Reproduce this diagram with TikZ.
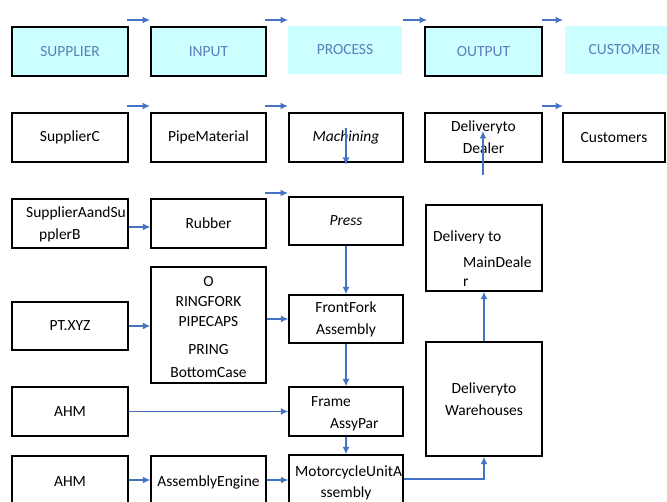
\documentclass[tikz,border=0pt]{standalone}
\usepackage{fontspec}
\setmainfont{Carlito}
\usetikzlibrary{arrows.meta}
\definecolor{arrc}{HTML}{4472C4}
\definecolor{hfill}{HTML}{CCFFFF}
\definecolor{htext}{RGB}{95,125,185}
\begin{document}
\begin{tikzpicture}[x=1pt,y=-1pt,
  font=\fontsize{15.5}{22}\selectfont,
  bx/.style={draw=black, line width=1.3pt, inner sep=0pt, align=center},
  hdr/.style={bx, fill=hfill, text=htext},
  hdrn/.style={fill=hfill, text=htext, inner sep=0pt},
  lbl/.style={inner sep=0pt},
  arr/.style={draw=arrc, line width=1.4pt, -{Latex[length=7.5pt,width=7pt]}}]
\useasboundingbox (0,0) rectangle (667,502);
% headers
\node[hdr, minimum width=116, minimum height=49] (hSup) at (70,51.5) {SUPPLIER};
\node[hdr, minimum width=115, minimum height=49] (hIn) at (208.5,51.5) {INPUT};
\node[hdrn, minimum width=114, minimum height=48] (hProc) at (345,50) {PROCESS};
\node[hdr, minimum width=117, minimum height=49] (hOut) at (483.5,51.5) {OUTPUT};
\node[hdrn, minimum width=119, minimum height=48] (hCust) at (624.5,50) {CUSTOMER};
% row 2
\node[bx, minimum width=116, minimum height=49] (supC) at (70,137.5) {SupplierC};
\node[bx, minimum width=115, minimum height=49] (pipe) at (208.5,137.5) {PipeMaterial};
\node[bx, minimum width=114, minimum height=49] (mach) at (346,137.5) {\itshape Machining};
\node[bx, minimum width=117, minimum height=49] (dealer) at (483.5,137.5) {\fontsize{15.5}{21}\selectfont Deliveryto\\Dealer};
\node[bx, minimum width=102, minimum height=49] (cust) at (614,137.5) {Customers};
% row 3
\node[bx, minimum width=116, minimum height=49] (supAB) at (70,223.5) {};
\node[bx, minimum width=115, minimum height=49] (rubber) at (208.5,223.5) {Rubber};
\node[bx, minimum width=114, minimum height=48] (press) at (346,221) {\itshape Press};
% row 4
\node[bx, minimum width=116, minimum height=48] (pt) at (70,326) {PT.XYZ};
\node[bx, minimum width=115, minimum height=116] (oring) at (208.5,325) {};
\node[bx, minimum width=114, minimum height=48] (ffork) at (346,319) {\fontsize{15.5}{23}\selectfont FrontFork\\Assembly};
% output column
\node[bx, minimum width=116, minimum height=86] (mainD) at (484,248) {};
\node[bx, minimum width=116, minimum height=114] (wareh) at (484,399) {Deliveryto\\Warehouses};
% row 5
\node[bx, minimum width=116, minimum height=49] (ahm1) at (70,411.5) {AHM};
\node[bx, minimum width=114, minimum height=49] (frame) at (346,411.5) {};
% row 6
\node[bx, minimum width=116, minimum height=52] (ahm2) at (70,482) {AHM};
\node[bx, minimum width=115, minimum height=52] (engine) at (208.5,482) {AssemblyEngine};
\node[bx, minimum width=114, minimum height=53] (motor) at (346,481.5) {};
% loose text
\node[lbl, anchor=west] (tAB1) at (26,213) {SupplierAandSu};
\node[lbl, anchor=west] (tAB2) at (39,235) {pplerB};
\node[lbl] (tO1) at (208.5,282) {O};
\node[lbl] (tO2) at (208.5,302) {RINGFORK};
\node[lbl] (tO3) at (208.5,322) {PIPECAPS};
\node[lbl] (tO4) at (208.5,350) {PRING};
\node[lbl] (tO5) at (208.5,373) {BottomCase};
\node[lbl, anchor=west] (tM1) at (433,237) {Delivery to};
\node[lbl, anchor=west] (tM2) at (463,262) {MainDeale};
\node[lbl, anchor=west] (tM3) at (463,283) {r};
\node[lbl, anchor=west] (tF1) at (311,402) {Frame};
\node[lbl, anchor=west] (tF2) at (330,425) {AssyPar};
\node[lbl, anchor=west] (tU1) at (295,472) {MotorcycleUnitA};
\node[lbl] (tU2) at (346,493) {ssembly};
% floating arrow ends
\coordinate (h1a) at (127,20); \coordinate (h1b) at (150,20);
\coordinate (h2a) at (265,20); \coordinate (h2b) at (288,20);
\coordinate (h3a) at (403,20); \coordinate (h3b) at (427,20);
\coordinate (h4a) at (542,20); \coordinate (h4b) at (563,20);
\coordinate (r1a) at (127,106); \coordinate (r1b) at (150,106);
\coordinate (r2a) at (265,106); \coordinate (r2b) at (288,106);
\coordinate (r3a) at (542,106); \coordinate (r3b) at (563,106);
\coordinate (p1a) at (265,193); \coordinate (p1b) at (288,193);
\coordinate (ma) at (346,128); \coordinate (mb) at (346,165);
\coordinate (da) at (483,175); \coordinate (db) at (483,131);
\foreach \a/\b in {h1a/h1b,h2a/h2b,h3a/h3b,h4a/h4b,r1a/r1b,r2a/r2b,r3a/r3b,p1a/p1b,ma/mb,da/db}
  \draw[arr] (\a) -- (\b);
% connectors
\draw[arr] ([yshift=-3.5pt]supAB.east) -- ([yshift=-3.5pt]supAB.east -| rubber.west);
\draw[arr] (pt.east) -- (pt.east -| oring.west);
\draw[arr] (oring.east |- ffork.west) -- (ffork.west);
\draw[arr] (press.south) -- (ffork.north);
\draw[arr] (ffork.south) -- (frame.north);
\draw[arr] (frame.south) -- (motor.north);
\draw[arr] (ahm1.east) -- (frame.west);
\draw[arr] ([yshift=2pt]ahm2.east) -- ([yshift=2pt]ahm2.east -| engine.west);
\draw[arr] ([yshift=2pt]engine.east) -- ([yshift=2pt]engine.east -| motor.west);
\draw[arr] ([yshift=2.5pt]motor.east) -| (wareh.south);
\draw[arr] (wareh.north) -- (mainD.south);
\end{tikzpicture}
\end{document}
